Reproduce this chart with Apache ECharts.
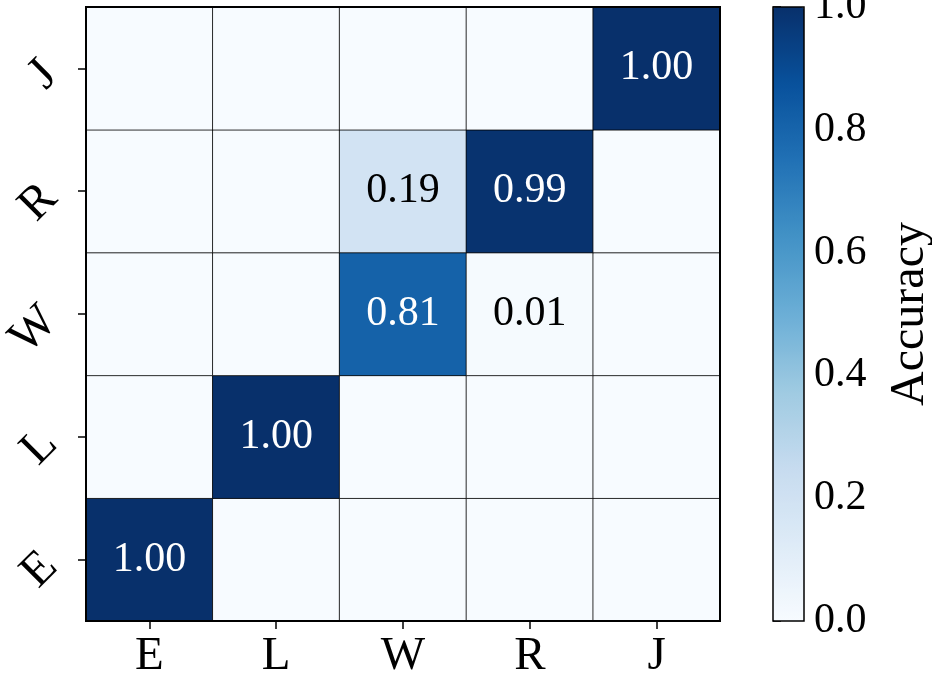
<!DOCTYPE html>
<html>
<head>
<meta charset="utf-8">
<script src="https://cdn.jsdelivr.net/npm/echarts@6/dist/echarts.min.js"></script>
<style>
html,body{margin:0;padding:0;background:#fff;}
#chart{width:932px;height:677px;}
</style>
</head>
<body>
<div id="chart"></div>
<script>
const xCategories = ['E', 'L', 'W', 'R', 'J'];
const yCategories = ['E', 'L', 'W', 'R', 'J'];
// rows: y category (bottom to top), columns: x category
const accuracyE = [1.00, 0, 0, 0, 0];
const accuracyL = [0, 1.00, 0, 0, 0];
const accuracyW = [0, 0, 0.81, 0.01, 0];
const accuracyR = [0, 0, 0.19, 0.99, 0];
const accuracyJ = [0, 0, 0, 0, 1.00];
const colorbarTicks = [0.0, 0.2, 0.4, 0.6, 0.8, 1.0];
const colorbarTitle = 'Accuracy';

const rows = [accuracyE, accuracyL, accuracyW, accuracyR, accuracyJ];
const blues = ['#f7fbff','#deebf7','#c6dbef','#9ecae1','#6baed6','#4292c6','#2171b5','#08519c','#08306b'];
const FONT = 'Liberation Serif';

const data = [];
rows.forEach((row, yi) => {
  row.forEach((v, xi) => {
    data.push({
      value: [xi, yi, v],
      label: { color: v > 0.5 ? '#ffffff' : '#000000' }
    });
  });
});

const chart = echarts.init(document.getElementById('chart'), null, {renderer: 'canvas'});
chart.setOption({
  animation: false,
  backgroundColor: '#ffffff',
  grid: [
    { left: 86, top: 7, width: 634, height: 614, show: true, borderColor: '#000', borderWidth: 2, backgroundColor: 'transparent', z: 10, outerBoundsMode: 'none', containLabel: false },
    { left: 773, top: 7, width: 31, height: 614, show: true, borderColor: '#000', borderWidth: 1.5, backgroundColor: 'transparent', z: 10, outerBoundsMode: 'none', containLabel: false }
  ],
  xAxis: [
    {
      gridIndex: 0, type: 'category', data: xCategories,
      axisLine: { show: false },
      axisTick: { show: true, alignWithLabel: true, length: 8, lineStyle: { color: '#000', width: 1.5 } },
      axisLabel: { fontFamily: FONT, fontSize: 47, color: '#000', margin: 12 },
      splitLine: { show: false }
    },
    { gridIndex: 1, type: 'value', min: 0, max: 1, show: false }
  ],
  yAxis: [
    {
      gridIndex: 0, type: 'category', data: yCategories,
      axisLine: { show: false },
      axisTick: { show: true, alignWithLabel: true, length: 8, lineStyle: { color: '#000', width: 1.5 } },
      axisLabel: { fontFamily: FONT, fontSize: 48, color: '#000', rotate: 45, margin: 36 },
      splitLine: { show: false }
    },
    {
      gridIndex: 1, type: 'value', min: 0, max: 1, interval: 0.2, position: 'right',
      axisLine: { show: false },
      axisTick: { show: true, length: 8, lineStyle: { color: '#000', width: 1.5 } },
      axisLabel: {
        fontFamily: FONT, fontSize: 42, color: '#000', margin: 10,
        customValues: colorbarTicks,
        formatter: v => Number(v).toFixed(1)
      },
      splitLine: { show: false },
      name: colorbarTitle, nameLocation: 'middle', nameRotate: 90, nameGap: 82,
      nameTextStyle: { fontFamily: FONT, fontSize: 48, color: '#000' }
    }
  ],
  visualMap: {
    type: 'continuous', min: 0, max: 1, seriesIndex: 0,
    calculable: false, hoverLink: false, showLabel: false,
    left: 773, top: 7, itemWidth: 31, itemHeight: 614, padding: 0,
    inRange: { color: blues }
  },
  series: [{
    type: 'heatmap',
    xAxisIndex: 0, yAxisIndex: 0,
    data: data,
    itemStyle: { borderColor: '#000', borderWidth: 0.8 },
    emphasis: { disabled: true },
    label: {
      show: true, fontFamily: FONT, fontSize: 42,
      formatter: p => p.value[2] > 0 ? p.value[2].toFixed(2) : ''
    }
  }]
});
</script>
</body>
</html>
